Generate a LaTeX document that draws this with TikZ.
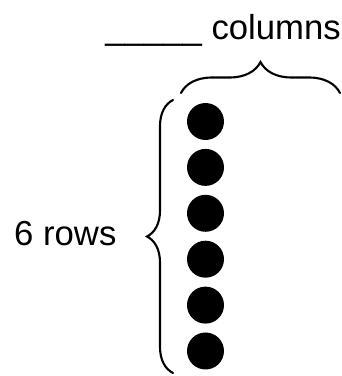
\documentclass[tikz,border=0pt]{standalone}
\usepackage{fontspec}
\setmainfont{Liberation Sans}
\usetikzlibrary{calc,decorations.pathreplacing,positioning}

\begin{document}
\begin{tikzpicture} [x=1pt,y=1pt,{dot/.style={circle,fill=black,draw=none,inner sep=0pt,minimum size=37pt}},{brc/.style={decorate,line width=2.1pt,line cap=round}},{lbl/.style={inner sep=0pt,font=\fontsize{34.7}{40}\selectfont}}]
	\useasboundingbox (0,0) rectangle (342,376);
	%%corners of the braces
	\coordinate (TL) at (181,283);
	\coordinate (TR) at (340,283);
	\coordinate (LB) at (173,3);
	\coordinate (LT) at (173,276);
	%%dots
	\foreach \i in {0,...,5}
		\node [dot] (dot\i) at (205.5,{254.5-45.9*\i}) {};
	%%braces
	\draw [brc,decoration={brace,amplitude=31pt}] (TL) -- (TR);
	\draw [brc,decoration={brace,amplitude=26pt}] (LB) -- (LT);
	%%labels
	\node [lbl,anchor=base west] (rowlbl) at (14,131) {6 rows};
	\node [lbl,anchor=base east] (collbl) at (341,337) {\_\_\_\_\_ columns};
\end{tikzpicture}
\end{document}
